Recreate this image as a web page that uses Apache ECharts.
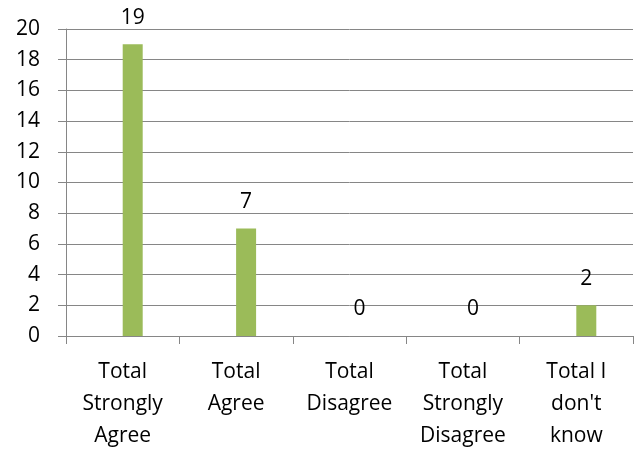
<!DOCTYPE html>
<html>
<head>
<meta charset="utf-8">
<script src="https://cdn.jsdelivr.net/npm/echarts@6/dist/echarts.min.js"></script>
<style>
  html, body { margin: 0; padding: 0; background: #ffffff; }
  #chart { width: 640px; height: 452px; }
</style>
</head>
<body>
<div id="chart"></div>
<script>
// Survey response totals
const categories = [
  'Total\nStrongly\nAgree',
  'Total\nAgree',
  'Total\nDisagree',
  'Total\nStrongly\nDisagree',
  'Total I\ndon\'t\nknow'
];
const counts = [19, 7, 0, 0, 2];
// Empty companion series; the counts sit in the second slot of each cluster
const emptySlot = [null, null, null, null, null];
const yTicks = { min: 0, max: 20, interval: 2 };

const FONT = '"Open Sans", Lato, sans-serif';
const GRAY = '#868686';

const chart = echarts.init(document.getElementById('chart'), null, { renderer: 'canvas' });
chart.setOption({
  animation: false,
  backgroundColor: '#ffffff',
  grid: { left: 66, right: 7, top: 29, bottom: 113, containLabel: false },
  xAxis: {
    type: 'category',
    data: categories,
    boundaryGap: true,
    axisLine: { show: true, lineStyle: { color: GRAY, width: 1 } },
    axisTick: { show: true, length: 8, lineStyle: { color: GRAY }, alignWithLabel: false },
    axisLabel: {
      interval: 0,
      margin: 20,
      color: '#000000',
      fontFamily: FONT,
      fontSize: 21,
      lineHeight: 32,
      align: 'center'
    }
  },
  yAxis: {
    type: 'value',
    min: yTicks.min,
    max: yTicks.max,
    interval: yTicks.interval,
    axisLine: { show: true, lineStyle: { color: GRAY, width: 1 } },
    axisTick: { show: true, length: 8, lineStyle: { color: GRAY } },
    splitLine: { show: true, lineStyle: { color: GRAY, width: 1 } },
    axisLabel: {
      margin: 26,
      color: '#000000',
      fontFamily: FONT,
      fontSize: 21
    }
  },
  series: [
    {
      type: 'bar',
      data: emptySlot,
      barWidth: 20,
      barGap: '0%',
      silent: true
    },
    {
      type: 'bar',
      data: counts,
      barWidth: 20,
      barGap: '0%',
      itemStyle: { color: '#9BBB59' },
      label: {
        show: true,
        position: 'top',
        distance: 16,
        color: '#000000',
        fontFamily: FONT,
        fontSize: 21
      }
    }
  ]
});
</script>
</body>
</html>
